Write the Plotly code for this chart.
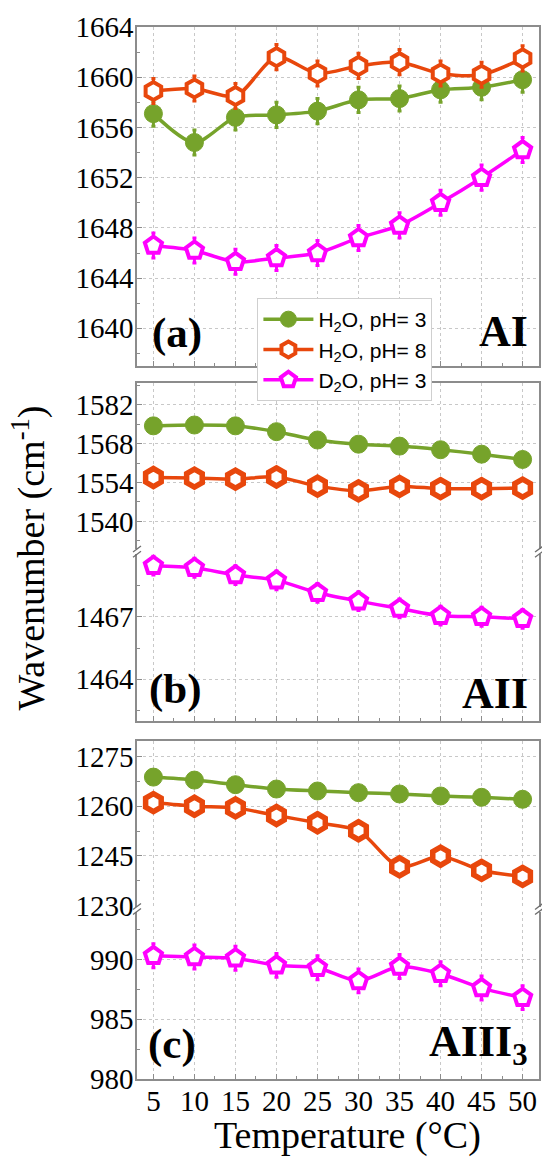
import plotly.graph_objects as go

# ---------------- data ----------------
temps = [5, 10, 15, 20, 25, 30, 35, 40, 45, 50]

# (a) Amide I
ai_h2o_ph3 = [1657.1, 1654.8, 1656.8, 1657.0, 1657.3, 1658.2, 1658.3, 1659.0, 1659.2, 1659.8]
ai_h2o_ph8 = [1658.9, 1659.1, 1658.5, 1661.6, 1660.3, 1660.9, 1661.2, 1660.3, 1660.2, 1661.5]
ai_d2o_ph3 = [1646.6, 1646.2, 1645.3, 1645.6, 1646.0, 1647.2, 1648.2, 1650.0, 1652.0, 1654.2]
ai_err_h2o_ph3 = [1.0, 1.0, 1.0, 1.0, 1.0, 1.0, 1.0, 1.0, 1.0, 1.0]
ai_err_h2o_ph8 = [1.0, 1.0, 1.0, 1.0, 1.0, 1.0, 1.0, 1.0, 1.0, 1.0]
ai_err_d2o_ph3 = [1.0, 1.0, 1.0, 1.0, 1.0, 1.0, 1.0, 1.0, 1.0, 1.0]

# (b) Amide II
aii_h2o_ph3 = [1574.4, 1574.7, 1574.4, 1572.3, 1569.3, 1567.8, 1567.1, 1565.8, 1564.2, 1562.3]
aii_h2o_ph8 = [1555.8, 1555.6, 1555.2, 1556.0, 1552.7, 1551.0, 1552.6, 1551.8, 1551.8, 1552.0]
aii_d2o_ph3 = [1469.45, 1469.35, 1469.0, 1468.75, 1468.15, 1467.75, 1467.4, 1467.05, 1467.0, 1466.9]
aii_err_h2o_ph8 = [1.0, 1.0, 1.0, 1.0, 1.0, 1.0, 1.0, 1.0, 1.0, 1.0]
aii_err_d2o_ph3 = [0.45, 0.45, 0.45, 0.45, 0.45, 0.45, 0.45, 0.45, 0.45, 0.45]

# (c) Amide III
aiii_h2o_ph3 = [1268.8, 1267.9, 1266.5, 1265.2, 1264.6, 1264.1, 1263.7, 1263.1, 1262.7, 1262.1]
aiii_h2o_ph8 = [1261.1, 1260.0, 1259.5, 1257.2, 1255.0, 1252.6, 1241.7, 1244.9, 1240.6, 1238.8]
aiii_d2o_ph3 = [990.3, 990.2, 990.1, 989.5, 989.3, 988.2, 989.4, 988.8, 987.6, 986.8]
aiii_err_h2o_ph8 = [1.0, 1.0, 1.0, 1.0, 1.0, 1.0, 1.0, 1.0, 1.0, 1.0]
aiii_err_d2o_ph3 = [1.0, 1.0, 1.0, 1.0, 1.0, 1.0, 1.0, 1.0, 1.0, 1.0]

series_names = ["H<sub>2</sub>O, pH= 3", "H<sub>2</sub>O, pH= 8", "D<sub>2</sub>O, pH= 3"]

# tick labels
x_ticks = [5, 10, 15, 20, 25, 30, 35, 40, 45, 50]
x_minor = [7.5, 12.5, 17.5, 22.5, 27.5, 32.5, 37.5, 42.5, 47.5]
ya_ticks = [1640, 1644, 1648, 1652, 1656, 1660, 1664]
ya_minor = [1638, 1642, 1646, 1650, 1654, 1658, 1662]
yb_top_ticks = [1540, 1554, 1568, 1582]
yb_top_minor = [1533, 1547, 1561, 1575, 1589]
yb_bot_ticks = [1464, 1467]
yb_bot_minor = [1462.5, 1465.5, 1468.5]
yc_top_ticks = [1230, 1245, 1260, 1275]
yc_top_minor = [1237.5, 1252.5, 1267.5]
yc_bot_ticks = [980, 985, 990]
yc_bot_minor = [982.5, 987.5, 992.5]

# ---------------- layout geometry ----------------
W, H = 542, 1158
L, R, T, B = 137, 1, 27, 79
PW = W - L - R
PH = H - T - B


def fy(y):
    return (H - B - y) / PH


def fx(x):
    return (x - L) / PW


GREEN = "#76A32B"
ORANGE = "#E8470C"
MAGENTA = "#FF00FF"
AXC = "#8C8C8C"
GRIDC = "#C8C8C8"
SERIF = "Liberation Serif"
SANS = "Liberation Sans"
TICKSIZE = 29

# (top_px, bottom_px, range, ticks, minor)
sub = [
    (27, 366, [1637, 1664], ya_ticks, ya_minor),
    (382.5, 549.2, [1530, 1590], yb_top_ticks, yb_top_minor),
    (554.2, 721, [1462, 1470], yb_bot_ticks, yb_bot_minor),
    (740.7, 906.5, [1229.7, 1279.8], yc_top_ticks, yc_top_minor),
    (911.5, 1079, [980, 994], yc_bot_ticks, yc_bot_minor),
]

fig = go.Figure()


def add(x, y, name, color, symbol, ax, err=None, show=False, lw=4, size=17):
    if symbol == "circle":
        marker = dict(symbol="circle", size=size, color=color, line=dict(color=color, width=1))
    else:
        marker = dict(symbol=symbol, size=size, color="white", line=dict(color=color, width=lw))
    kw = {}
    if err is not None:
        kw["error_y"] = dict(type="data", array=err, color=color, thickness=3, width=2)
    fig.add_trace(go.Scatter(
        x=x, y=y, name=name, mode="lines+markers",
        line=dict(color=color, width=3.5, shape="spline", smoothing=0.8),
        marker=marker, showlegend=show,
        xaxis="x" + ("" if ax == 1 else str(ax)),
        yaxis="y" + ("" if ax == 1 else str(ax)),
        **kw))


# panel a
add(temps, ai_h2o_ph3, series_names[0], GREEN, "circle", 1, ai_err_h2o_ph3, True, size=18)
add(temps, ai_h2o_ph8, series_names[1], ORANGE, "hexagon", 1, ai_err_h2o_ph8, True, lw=4, size=18)
add(temps, ai_d2o_ph3, series_names[2], MAGENTA, "pentagon", 1, ai_err_d2o_ph3, True, lw=4, size=18)
# panel b
add(temps, aii_h2o_ph3, series_names[0], GREEN, "circle", 2, None, size=18)
add(temps, aii_h2o_ph8, series_names[1], ORANGE, "hexagon", 2, aii_err_h2o_ph8, lw=5.5, size=18)
add(temps, aii_d2o_ph3, series_names[2], MAGENTA, "pentagon", 3, aii_err_d2o_ph3, lw=4, size=18)
# panel c
add(temps, aiii_h2o_ph3, series_names[0], GREEN, "circle", 4, None, size=18)
add(temps, aiii_h2o_ph8, series_names[1], ORANGE, "hexagon", 4, aiii_err_h2o_ph8, lw=5.5, size=18)
add(temps, aiii_d2o_ph3, series_names[2], MAGENTA, "pentagon", 5, aiii_err_d2o_ph3, lw=4, size=18)

layout = dict(
    width=W, height=H,
    margin=dict(l=L, r=R, t=T, b=B, pad=0),
    paper_bgcolor="white", plot_bgcolor="white",
    font=dict(family=SERIF, size=TICKSIZE, color="black"),
    showlegend=True,
    legend=dict(
        x=fx(258), y=fy(298), xanchor="left", yanchor="top",
        bgcolor="white", bordercolor="#CFCFCF", borderwidth=1,
        font=dict(family=SANS, size=21, color="black"),
        tracegroupgap=0, itemwidth=50,
    ),
)

for i, (top, bot, rng, tv, mv) in enumerate(sub, start=1):
    sx = "" if i == 1 else str(i)
    xa = dict(
        domain=[0, 1], range=[3, 52], anchor="y" + sx,
        tickvals=x_ticks, showgrid=True, gridcolor=GRIDC, griddash="dot", gridwidth=1,
        showline=True, linecolor=AXC, linewidth=1.5,
        zeroline=False,
        showticklabels=(i == 5),
        tickfont=dict(family=SERIF, size=TICKSIZE),
    )
    if i in (2, 4):
        xa.update(side="top", ticks="")
    else:
        xa.update(ticks="inside", ticklen=5, tickcolor=AXC, tickwidth=1.2,
                  minor=dict(tickvals=x_minor, ticks="inside", ticklen=3, tickcolor=AXC, tickwidth=1,
                             showgrid=False))
        if i == 1:
            xa.update(mirror=True)
    if i == 5:
        xa.update(ticklabelstandoff=-5)
    ya = dict(
        domain=[fy(bot), fy(top)], range=rng, anchor="x" + sx,
        tickvals=tv, showgrid=True, gridcolor=GRIDC, griddash="dot", gridwidth=1,
        showline=True, linecolor=AXC, linewidth=1.5, mirror=True,
        zeroline=False,
        ticks="inside", ticklen=5, tickcolor=AXC, tickwidth=1.2,
        minor=dict(tickvals=mv, ticks="inside", ticklen=3, tickcolor=AXC, tickwidth=1, showgrid=False),
        tickfont=dict(family=SERIF, size=TICKSIZE),
        ticklabelstandoff=-4,
    )
    layout["xaxis" + sx] = xa
    layout["yaxis" + sx] = ya

fig.update_layout(**layout)

# break marks
shapes = []
for yc in (551.7, 909.0):
    for xc in (L, W - R):
        for off in (-2.6, 2.6):
            y0 = yc + off
            shapes.append(dict(
                type="line", xref="paper", yref="paper",
                x0=fx(xc - 4), y0=fy(y0 + 3), x1=fx(xc + 4), y1=fy(y0 - 3),
                line=dict(color="#6E6E6E", width=1.3)))
fig.update_layout(shapes=shapes)

ann = [
    dict(text="Wavenumber (cm<sup>-1</sup>)", x=fx(28), y=fy(558), textangle=-90,
         xanchor="center", yanchor="middle", font=dict(family=SERIF, size=38)),
    dict(text="Temperature (°C)", x=fx(349), y=fy(1135),
         xanchor="center", yanchor="middle", font=dict(family=SERIF, size=38)),
    dict(text="<b>(a)</b>", x=fx(150), y=fy(333), xanchor="left", yanchor="middle",
         font=dict(family=SERIF, size=43)),
    dict(text="<b>AI</b>", x=fx(532), y=fy(332), xanchor="right", yanchor="middle",
         font=dict(family=SERIF, size=44)),
    dict(text="<b>(b)</b>", x=fx(147), y=fy(689), xanchor="left", yanchor="middle",
         font=dict(family=SERIF, size=43)),
    dict(text="<b>AII</b>", x=fx(532), y=fy(693), xanchor="right", yanchor="middle",
         font=dict(family=SERIF, size=44)),
    dict(text="<b>(c)</b>", x=fx(146), y=fy(1044), xanchor="left", yanchor="middle",
         font=dict(family=SERIF, size=43)),
    dict(text="<b>AIII<sub>3</sub></b>", x=fx(532), y=fy(1044), xanchor="right", yanchor="middle",
         font=dict(family=SERIF, size=44)),
]
for a in ann:
    a.update(xref="paper", yref="paper", showarrow=False)
fig.update_layout(annotations=ann)

fig.write_html(
    "out.html",
    config={"displayModeBar": False},
    post_script="document.body.style.margin='0px';document.body.style.overflow='hidden';",
)
